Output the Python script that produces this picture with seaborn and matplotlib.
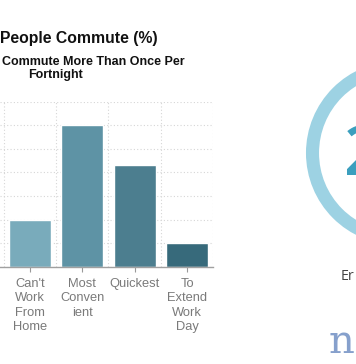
import matplotlib
matplotlib.use("Agg")
import matplotlib.pyplot as plt
from matplotlib.patches import Circle
import pandas as pd
import seaborn as sns

# data
reasons = ["Can't\nWork\nFrom\nHome", "Most\nConven\nient", "Quickest", "To\nExtend\nWork\nDay"]
share = [10, 30, 21.6, 5]
bar_colors = ["#79abbb", "#5e93a5", "#4c7e8f", "#376a7b"]
y_ticks = [0, 5, 10, 15, 20, 25, 30, 35]

df = pd.DataFrame({"reason": reasons, "share": share})

sns.set_style("whitegrid")
plt.rcParams["font.family"] = ["Liberation Sans", "DejaVu Sans"]

W, H = 356, 364
fig = plt.figure(figsize=(W / 100, H / 100), dpi=100)

def fx(x):
    return x / W

def fy(y):
    return 1 - y / H

ax = fig.add_axes([0, fy(266.7), 213.3 / W, (266.7 - 101.7) / H])
sns.barplot(data=df, x="reason", y="share", hue="reason", palette=bar_colors,
            legend=False, width=0.8, saturation=1, ax=ax)

ax.set_xlim(-0.567, 3.5)
ax.set_ylim(0, 35)
ax.set_yticks(y_ticks)
ax.set_xlabel("")
ax.set_ylabel("")
ax.set_xticks([-0.5, 0.5, 1.5, 2.5, 3.5], minor=True)
ax.grid(False)
ax.grid(True, axis="y", which="major", color="#d6d6d6", linestyle=(0, (1, 2)), linewidth=0.8)
ax.grid(True, axis="x", which="minor", color="#d6d6d6", linestyle=(0, (1, 2)), linewidth=0.8)
ax.set_axisbelow(True)
for s in ["left", "right", "top"]:
    ax.spines[s].set_visible(False)
ax.spines["bottom"].set_color("#a0a0a0")
ax.spines["bottom"].set_linewidth(1.0)
ax.tick_params(axis="y", left=False, labelleft=False)
ax.tick_params(axis="x", which="major", bottom=True, length=3.5, width=0.8, color="#999999",
               direction="out", labelcolor="#7a7a7a", labelsize=9.3, pad=4.5)
ax.tick_params(axis="x", which="minor", length=0)
for lab in ax.get_xticklabels():
    lab.set_linespacing(1.27)

# titles
fig.text(fx(-0.5), fy(43.3), "People Commute (%)", fontsize=11.3, weight="bold",
         va="baseline", ha="left", color="#111111")
fig.text(fx(2.5), fy(65), "Commute More Than Once Per", fontsize=9, weight="bold",
         va="baseline", ha="left", color="#111111")
fig.text(fx(28), fy(78), "Fortnight", fontsize=9, weight="bold",
         va="baseline", ha="left", color="#111111")

# cropped neighbouring panel on the right
deco = fig.add_axes([0, 0, 1, 1])
deco.set_xlim(0, W)
deco.set_ylim(H, 0)
deco.axis("off")
deco.patch.set_alpha(0)
deco.add_patch(Circle((398, 153), 85.5, fill=False, linewidth=9.4, edgecolor="#9dd2e3"))
deco.text(344, 175, "2", fontsize=50, color="#3b9fbe", family="Open Sans",
          weight="semibold", va="baseline", ha="left")
deco.text(341, 280.5, "Er", fontsize=10.3, color="#444444", family="Open Sans",
          va="baseline", ha="left")
deco.text(329, 353, "n", fontsize=29, color="#86a0cc", family="DejaVu Serif",
          va="baseline", ha="left")

fig.savefig("out.png", dpi=100)
